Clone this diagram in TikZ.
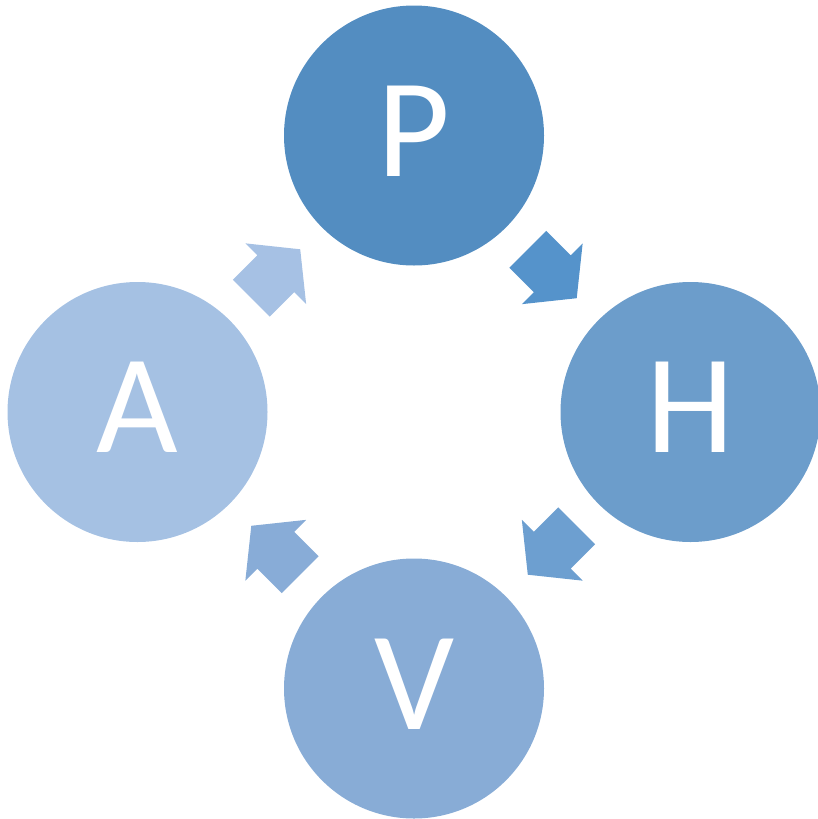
\documentclass[tikz,border=0pt]{standalone}
\usepackage{fontspec}
\setmainfont{Carlito}
\usetikzlibrary{calc}
\definecolor{cP}{HTML}{538DC1}
\definecolor{cH}{HTML}{6C9DCB}
\definecolor{cV}{HTML}{88ACD6}
\definecolor{cA}{HTML}{A5C1E3}
\definecolor{aPH}{HTML}{5593CB}
\definecolor{aHV}{HTML}{6D9FD0}
\definecolor{aVA}{HTML}{88ACD7}
\definecolor{aAP}{HTML}{A6C1E4}
\newcommand\mkarrow[3]{%
  \coordinate (m#1#2) at ($(#1)!0.5!(#2)$);
  \coordinate (r#1#2) at ($(m#1#2)!34.6pt!(#1)$);
  \coordinate (t#1#2) at ($(m#1#2)!34.6pt!(#2)$);
  \fill[#3] ($(r#1#2)!26pt!90:(t#1#2)$) -- ($(m#1#2)!26pt!90:(t#1#2)$)
    -- ($(m#1#2)!43pt!90:(t#1#2)$) -- (t#1#2)
    -- ($(m#1#2)!43pt!-90:(t#1#2)$) -- ($(m#1#2)!26pt!-90:(t#1#2)$)
    -- ($(r#1#2)!26pt!-90:(t#1#2)$) -- cycle;}
\begin{document}
\begin{tikzpicture}[x=1pt,y=-1pt,
  stage/.style={circle, minimum size=260pt, inner sep=0pt, text=white,
    font=\fontsize{141}{141}\selectfont, text depth=9pt}]
\useasboundingbox (0,0) rectangle (818,819);
\node[stage, fill=cP] (P) at (414,135.5) {P};
\node[stage, fill=cH] (H) at (690.5,412) {H};
\node[stage, fill=cV] (V) at (414,688.5) {V};
\node[stage, fill=cA] (A) at (137.5,412) {A};
\mkarrow{P}{H}{aPH}
\mkarrow{H}{V}{aHV}
\mkarrow{V}{A}{aVA}
\mkarrow{A}{P}{aAP}
\end{tikzpicture}
\end{document}
